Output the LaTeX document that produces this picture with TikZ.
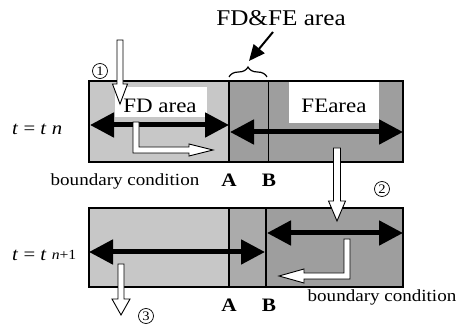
\documentclass[tikz,border=0pt]{standalone}
\usepackage{fontspec}
\setmainfont{Liberation Serif}[FakeStretch=1.12]
\usetikzlibrary{arrows.meta,decorations.pathreplacing}
\definecolor{fdgray}{gray}{0.78}
\definecolor{ovgray}{gray}{0.67}
\definecolor{fegray}{gray}{0.62}
\begin{document}
\begin{tikzpicture}[x=1pt,y=-1pt,
  hollow/.style={draw=black, line width=0.9pt, fill=white, line join=miter},
  dbl/.style={line width=5pt, {Triangle[length=24pt,width=24pt]}-{Triangle[length=24pt,width=24pt]}},
  areatext/.style={inner sep=0pt, font=\fontsize{20.5}{24}\selectfont},
  bc/.style={inner sep=0pt, font=\fontsize{17}{20}\selectfont},
  ab/.style={inner sep=0pt, font=\fontsize{19}{22}\selectfont\bfseries},
  tlab/.style={inner sep=0pt, anchor=base west, font=\fontsize{18.5}{22}\selectfont},
  num/.style={circle, draw, line width=0.7pt, minimum size=15pt, inner sep=0pt, font=\fontsize{13}{13}\selectfont},
  sep/.style={line width=2pt},
  frame/.style={line width=1.5pt}]
\useasboundingbox (0,0) rectangle (464,334);

% shaded regions of the two time levels
\fill[fdgray] (89,81) rectangle (229,162);
\fill[fegray] (229,81) rectangle (403,162);
\fill[fdgray] (89,208) rectangle (229,287);
\fill[ovgray] (229,208) rectangle (266,287);
\fill[fegray] (266,208) rectangle (403,287);

% white label patches
\fill[white] (115,87) rectangle (207,117);
\fill[white] (289,82) rectangle (379,123);

% labels
\node[areatext] (fdfe) at (281,18) {\fontsize{22.5}{26}\selectfont FD\&FE area};
\node[areatext] (fd) at (160,106) {FD area};
\node[areatext] (fe) at (334,106) {FEarea};
\node[tlab] (tn) at (12,135) {\textit{t} = \textit{t} \textit{n}};
\node[tlab] (tn1) at (12,261) {\textit{t} = \textit{t} \raisebox{1pt}{\fontsize{14}{16}\selectfont\textit{n}+1}};
\node[bc] (bc1) at (125,181) {boundary condition};
\node[bc] (bc2) at (382,297) {boundary condition};
\node[ab] (a1) at (229,180) {A};
\node[ab] (b1) at (269,180) {B};
\node[ab] (a2) at (229,305) {A};
\node[ab] (b2) at (269,305) {B};
\node[num] (n1) at (100,71) {1};
\node[num] (n2) at (382,189) {2};
\node[num] (n3) at (146,316) {3};

% pointer to the overlap region
\coordinate (p0) at (273,32);
\coordinate (p1) at (249,61);
\draw[line width=2pt, -{Triangle[length=16pt,width=14pt]}] (p0) -- (p1);
\draw[decorate, decoration={brace, amplitude=10pt}, line width=1.2pt] (229,77) -- (267,77);

% information exchange arrows
\coordinate (fdL) at (90,125);
\coordinate (fdR) at (229,125);
\coordinate (feL) at (230,132);
\coordinate (feR) at (403,132);
\coordinate (fe2L) at (267,233);
\coordinate (fe2R) at (403,233);
\coordinate (fd2L) at (89,252);
\coordinate (fd2R) at (265,252);
\draw[dbl] (fdL) -- (fdR);
\draw[dbl] (feL) -- (feR);
\draw[dbl] (fe2L) -- (fe2R);
\draw[dbl] (fd2L) -- (fd2R);

% interface lines A and B
\draw[sep] (229,81) -- (229,162);
\draw[line width=0.8pt] (268,81) -- (268,162);
\draw[sep] (229,208) -- (229,287);
\draw[sep] (266,208) -- (266,287);

% frames
\draw[frame] (89,81) rectangle (403,162);
\draw[frame] (89,208) rectangle (403,287);

% hollow step arrows
\draw[hollow] (117,40) -- (117,84) -- (112.5,84) -- (120,104) -- (127.5,84) -- (123,84) -- (123,40) -- cycle;
\draw[hollow] (333.5,148) -- (333.5,201) -- (328.5,201) -- (337,221) -- (345.5,201) -- (340.5,201) -- (340.5,148) -- cycle;
\draw[hollow] (118,264) -- (118,299) -- (112,299) -- (121,315) -- (130,299) -- (124,299) -- (124,264) -- cycle;
\draw[hollow] (133,122) -- (133,153) -- (189,153) -- (189,156) -- (213,150) -- (189,144) -- (189,147) -- (139,147) -- (139,122) -- cycle;
\draw[hollow] (344,239) -- (344,273) -- (304,273) -- (304,269) -- (279,276) -- (304,283) -- (304,279) -- (350,279) -- (350,239) -- cycle;
\end{tikzpicture}
\end{document}
